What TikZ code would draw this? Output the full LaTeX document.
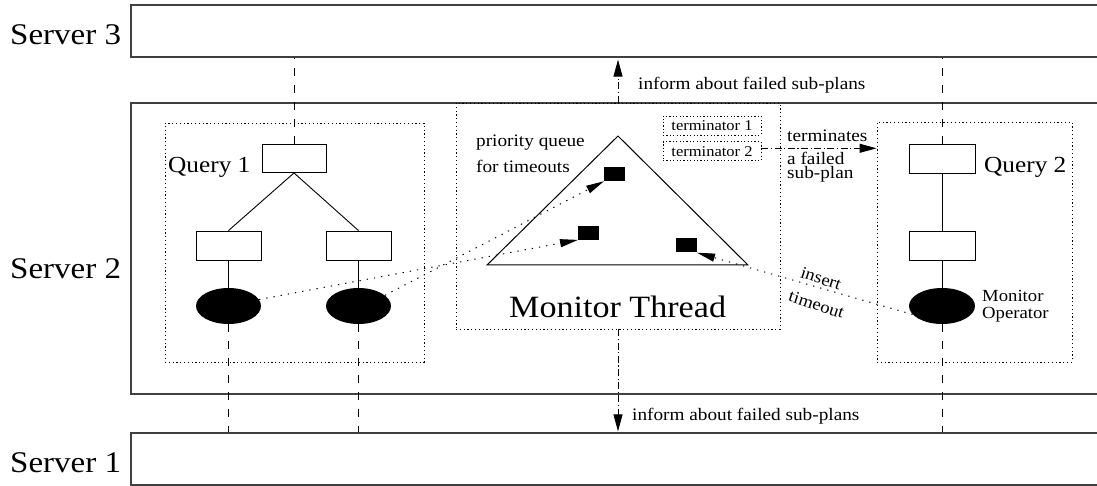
\documentclass[tikz,border=0pt]{standalone}
\usepackage{fontspec}
\setmainfont{Liberation Serif}[FakeStretch=1.1]
\usetikzlibrary{arrows.meta,shapes.geometric}
\tikzset{
  srv/.style={draw=black!75, line width=1.3pt, inner sep=0pt, minimum height=52pt},
  dotbox/.style={draw, line width=0.9pt, dash pattern=on 1.2pt off 2.6pt},
  opbox/.style={draw, line width=0.9pt, fill=white, inner sep=0pt, minimum width=65pt, minimum height=29pt},
  opell/.style={ellipse, fill=black, inner sep=0pt, minimum width=65pt, minimum height=36pt},
  blk/.style={fill=black, inner sep=0pt, minimum width=21pt, minimum height=14pt},
  termbox/.style={draw, line width=0.8pt, dash pattern=on 1.2pt off 2.2pt, inner sep=0pt, minimum width=98pt, minimum height=19pt, font=\fontsize{15}{15}\selectfont},
  txt/.style={inner sep=0pt, anchor=base west},
  longdash/.style={line width=0.9pt, dash pattern=on 8pt off 9pt},
  solidln/.style={line width=0.9pt},
  dotarrow/.style={line width=1pt, dash pattern=on 1.3pt off 6pt, -{Triangle[length=18pt,width=8pt]}},
  dasharrow/.style={line width=0.9pt, dash pattern=on 7pt off 2.5pt on 1.2pt off 2.5pt, -{Triangle[length=17pt,width=9pt]}},
}
\begin{document}
\begin{tikzpicture}[x=1pt,y=-1pt]
\useasboundingbox (0,0) rectangle (1097,486);
\clip (0,0) rectangle (1097,486);

% servers
\node[srv, minimum width=975pt] (s3) at (618.5,31) {};
\node[srv, minimum width=975pt, minimum height=291pt] (s2) at (618.5,248.5) {};
\node[srv, minimum width=975pt] (s1) at (618.5,459) {};
\node[txt, font=\fontsize{30}{30}\selectfont] (l3) at (10,45) {Server 3};
\node[txt, font=\fontsize{30}{30}\selectfont] (l2) at (10,279) {Server 2};
\node[txt, font=\fontsize{30}{30}\selectfont] (l1) at (10,472) {Server 1};

% query 1
\node[dotbox, minimum width=259pt, minimum height=239pt, inner sep=0pt] (q1box) at (294.5,242.5) {};
\node[opbox, minimum width=64pt, minimum height=28pt] (q1top) at (294,158.5) {};
\node[opbox] (q1l) at (228.5,245.5) {};
\node[opbox] (q1r) at (358.5,245.5) {};
\node[opell] (e1) at (228.5,306) {};
\node[opell] (e2) at (358.5,306) {};
\node[txt, font=\fontsize{23}{23}\selectfont] (q1lab) at (168,172.7) {Query 1};
\draw[solidln] (q1top.south) -- (q1l.north);
\draw[solidln] (q1top.south) -- (q1r.north);
\draw[solidln] (q1l.south) -- (e1.north);
\draw[solidln] (q1r.south) -- (e2.north);
\draw[longdash] (q1top.north) -- (q1top.north |- s3.south);
\draw[longdash] (e1.south) -- (e1.south |- s1.north);
\draw[longdash] (e2.south) -- (e2.south |- s1.north);

% monitor thread
\node[dotbox, minimum width=324pt, minimum height=226pt, inner sep=0pt] (mon) at (618,216) {};
\coordinate (tA) at (618,136);
\coordinate (tB) at (487,265);
\coordinate (tC) at (748,265);
\draw[line width=1pt] (tA) -- (tB) -- (tC) -- cycle;
\node[blk] (r1) at (614.7,174) {};
\node[blk] (r2) at (588.7,232.7) {};
\node[blk] (r3) at (686.3,245.5) {};
\node[txt, font=\fontsize{17.5}{17.5}\selectfont] (pq1) at (476,147) {priority queue};
\node[txt, font=\fontsize{17.5}{17.5}\selectfont] (pq2) at (476,173) {for timeouts};
\node[txt, font=\fontsize{31}{31}\selectfont] (mtl) at (509,317) {Monitor Thread};
\node[termbox] (t1) at (712,125.5) {terminator 1};
\node[termbox] (t2) at (712,151.3) {terminator 2};

% query 2
\node[dotbox, minimum width=195pt, minimum height=240pt, inner sep=0pt] (q2box) at (974.5,242) {};
\node[opbox, minimum width=66pt] (q2top) at (942,159) {};
\node[opbox, minimum width=66pt] (q2mid) at (942,245.5) {};
\node[opell, minimum width=66pt] (e3) at (942,306) {};
\node[txt, font=\fontsize{23}{23}\selectfont] (q2lab) at (984,172.7) {Query 2};
\node[txt, font=\fontsize{17}{17}\selectfont] (mo1) at (982,301.7) {Monitor};
\node[txt, font=\fontsize{17}{17}\selectfont] (mo2) at (982,318) {Operator};
\draw[solidln] (q2top.south) -- (q2mid.north);
\draw[solidln] (q2mid.south) -- (e3.north);
\draw[longdash] (q2top.north) -- (q2top.north |- s3.south);
\draw[longdash] (e3.south) -- (e3.south |- s1.north);

% timeouts inserted
\draw[dotarrow] (e1.12) -- (r2.south west);
\draw[dotarrow] (e2.22) -- (r1.south west);
\draw[dotarrow] (e3.196) -- (r3.south east);
\node[inner sep=0pt, rotate=-18, font=\fontsize{17}{17}\selectfont] (ins) at (821,278.5) {insert};
\node[inner sep=0pt, rotate=-18, font=\fontsize{17}{17}\selectfont] (tmo) at (816.5,304.5) {timeout};

% terminates
\draw[dasharrow] ([yshift=3pt]t2.east) -- ([yshift=3pt]t2.east -| q2box.west);
\node[txt, font=\fontsize{17.5}{17.5}\selectfont] (tm1) at (787,141.7) {terminates};
\node[txt, font=\fontsize{17.5}{17.5}\selectfont] (tm2) at (787,165) {a failed};
\node[txt, font=\fontsize{17.5}{17.5}\selectfont] (tm3) at (787,178.3) {sub-plan};

% inform
\draw[dasharrow, shorten >=2pt] (mon.north) -- (mon.north |- s3.south);
\draw[dasharrow, shorten >=1pt] (mon.south) -- (mon.south |- s1.north);
\node[txt, font=\fontsize{17.5}{17.5}\selectfont] (inf1) at (638,90) {inform about failed sub-plans};
\node[txt, font=\fontsize{17.5}{17.5}\selectfont] (inf2) at (632,420) {inform about failed sub-plans};
\end{tikzpicture}
\end{document}
